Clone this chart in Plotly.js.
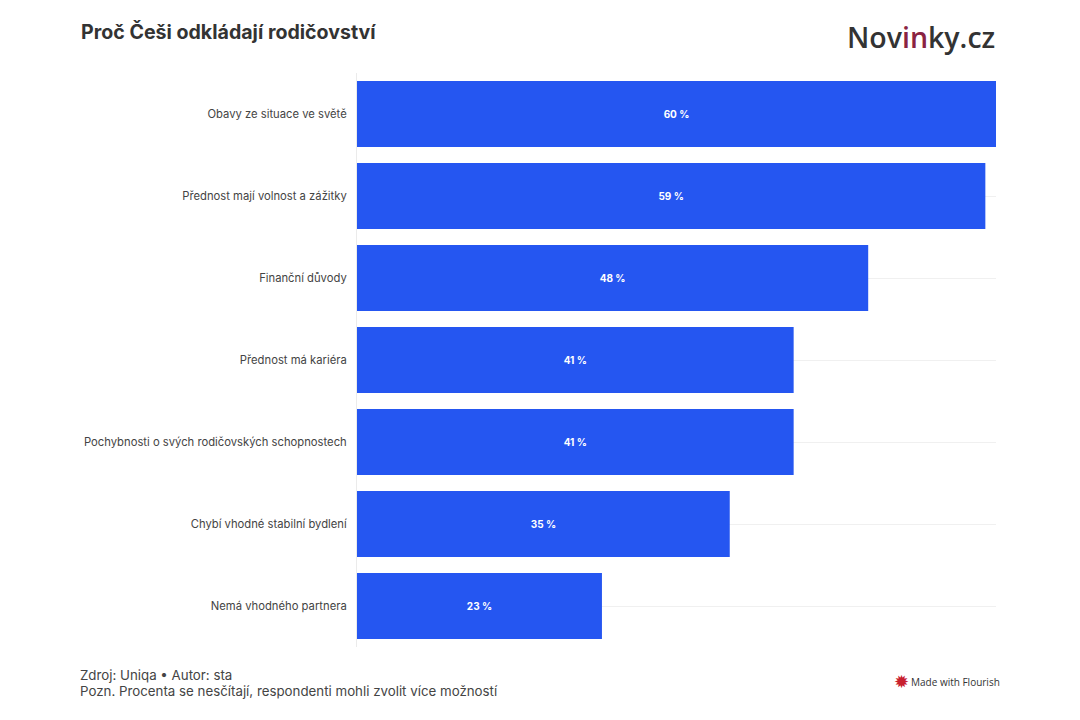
<!DOCTYPE html>
<html lang="cs">
<head>
<meta charset="utf-8">
<title>Proč Češi odkládají rodičovství</title>
<script src="https://cdn.plot.ly/plotly-3.0.1.min.js"></script>
<style>
  html, body { margin: 0; padding: 0; background: #fff; }
  #chart { width: 1080px; height: 720px; }
</style>
</head>
<body>
<div id="chart"></div>
<script>
const reasons = [
  'Obavy ze situace ve světě',
  'Přednost mají volnost a zážitky',
  'Finanční důvody',
  'Přednost má kariéra',
  'Pochybnosti o svých rodičovských schopnostech',
  'Chybí vhodné stabilní bydlení',
  'Nemá vhodného partnera',
];
const shares = [60, 59, 48, 41, 41, 35, 23];

const W = 1080, H = 720;
const margin = { l: 357, r: 84, t: 73, b: 73 };

// place a note by its pixel position on the page
function note(text, px, py, size, color, extra) {
  return Object.assign({
    text: text,
    xref: 'paper',
    yref: 'paper',
    x: (px - margin.l) / (W - margin.l - margin.r),
    y: (H - margin.b - py) / (H - margin.t - margin.b),
    xanchor: 'left',
    yanchor: 'middle',
    showarrow: false,
    align: 'left',
    font: { family: 'Inter', size: size, color: color },
  }, extra);
}

const trace = {
  type: 'bar',
  orientation: 'h',
  x: shares,
  y: reasons,
  marker: { color: '#2556f1' },
  texttemplate: '<b>%{x} %</b>',
  textposition: 'inside',
  insidetextanchor: 'middle',
  textangle: 0,
  insidetextfont: { family: 'Inter', size: 10, color: '#ffffff' },
  hovertemplate: '%{y}: %{x} %<extra></extra>',
};

const layout = {
  width: W,
  height: H,
  paper_bgcolor: '#ffffff',
  plot_bgcolor: '#ffffff',
  font: { family: 'Inter', color: '#444444', size: 11 },
  margin: margin,
  showlegend: false,
  bargap: 0.195,
  title: {
    text: '<b>Proč Češi odkládají rodičovství</b>',
    font: { family: 'Inter', size: 19.6, color: '#333333' },
    xref: 'container',
    yref: 'container',
    x: 81 / W,
    xanchor: 'left',
    y: 1 - 32 / H,
    yanchor: 'middle',
  },
  xaxis: {
    range: [0, 60],
    fixedrange: true,
    showgrid: false,
    zeroline: false,
    showticklabels: false,
    ticks: '',
  },
  yaxis: {
    type: 'category',
    autorange: 'reversed',
    fixedrange: true,
    showgrid: true,
    gridcolor: '#f0f0f0',
    gridwidth: 1,
    showline: true,
    linecolor: '#ebebeb',
    linewidth: 1,
    ticks: 'outside',
    ticklen: 7,
    tickcolor: 'rgba(0,0,0,0)',
    tickfont: { family: 'Inter', size: 11.25, color: '#444444' },
  },
  annotations: [
    note('Zdroj: Uniqa • Autor: sta', 78, 675, 13.3, '#444444'),
    note('Pozn. Procenta se nesčítají, respondenti mohli zvolit více možností', 78, 691, 13.3, '#444444'),
    note('Nov<span style="color:#8a2342">in</span>ky.cz', 845, 37, 28, '#333333', {
      font: { family: 'Open Sans', size: 28.5, weight: 600, color: '#333333' },
    }),
    note('✹', 892, 681, 18, '#c8202f', {
      font: { family: 'DejaVu Sans', size: 18, color: '#c8202f' },
    }),
    note('Made with Flourish', 909, 682, 10, '#333333', {
      font: { family: 'Open Sans', size: 10, color: '#333333' },
    }),
  ],
};

Plotly.newPlot('chart', [trace], layout, { displayModeBar: false });
</script>
</body>
</html>
